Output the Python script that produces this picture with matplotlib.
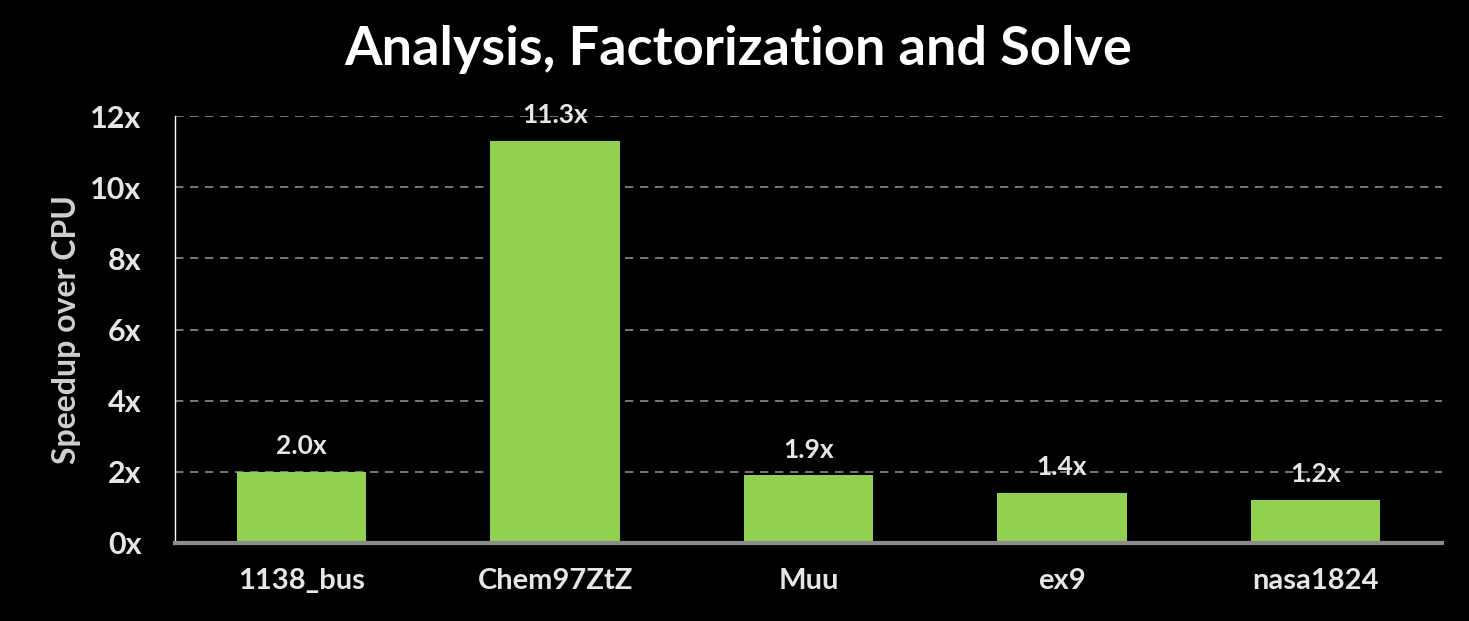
import matplotlib
matplotlib.use("Agg")
from matplotlib import pyplot as plt

# Data
matrices = ["1138_bus", "Chem97ZtZ", "Muu", "ex9", "nasa1824"]
speedups = [2.0, 11.3, 1.9, 1.4, 1.2]
yticks = [0, 2, 4, 6, 8, 10, 12]
ytick_labels = ["0x", "2x", "4x", "6x", "8x", "10x", "12x"]

plt.rcParams['font.family'] = ['Lato', 'DejaVu Sans']
plt.rcParams['font.weight'] = 'bold'

fig = plt.figure(figsize=(14.69, 6.21), dpi=100, facecolor='black')
ax = fig.add_axes([175 / 1469, 1 - 543 / 621, (1442 - 175) / 1469, (543 - 116) / 621])
ax.set_facecolor('black')

bars = ax.bar(range(len(matrices)), speedups, width=0.51, color='#92D050', zorder=3)

for i, v in enumerate(speedups):
    ax.annotate(f"{v:.1f}x", (i, v), xytext=(0, 10), textcoords='offset points',
                ha='center', va='bottom', color='#E6E6E6', fontsize=19, fontweight='bold')

ax.set_xlim(-0.5, len(matrices) - 0.5)
ax.set_ylim(0, 12)
ax.set_yticks(yticks)
ax.set_yticklabels(ytick_labels)
ax.set_xticks(range(len(matrices)))
ax.set_xticklabels(matrices)
ax.tick_params(axis='y', length=0, pad=24, labelsize=22, labelcolor='#E6E6E6')
ax.tick_params(axis='x', length=0, pad=18, labelsize=21, labelcolor='#E6E6E6')

ax.grid(axis='y', color='#8C8C8C', linestyle=(0, (5, 4)), linewidth=1.2, zorder=0)

for s in ['top', 'right']:
    ax.spines[s].set_visible(False)
ax.spines['left'].set_color('white')
ax.spines['left'].set_linewidth(1)
ax.spines['bottom'].set_color('#8C8C8C')
ax.spines['bottom'].set_linewidth(3)
ax.spines['bottom'].set_zorder(4)

ax.set_ylabel("Speedup over CPU", color='#D0D0D0', fontsize=23, fontweight='bold', labelpad=7)

fig.text(738 / 1469, 1 - 50 / 621, "Analysis, Factorization and Solve", ha='center', va='center',
         color='white', fontsize=39, fontweight='bold')

fig.savefig("out.png", dpi=100, facecolor='black')
